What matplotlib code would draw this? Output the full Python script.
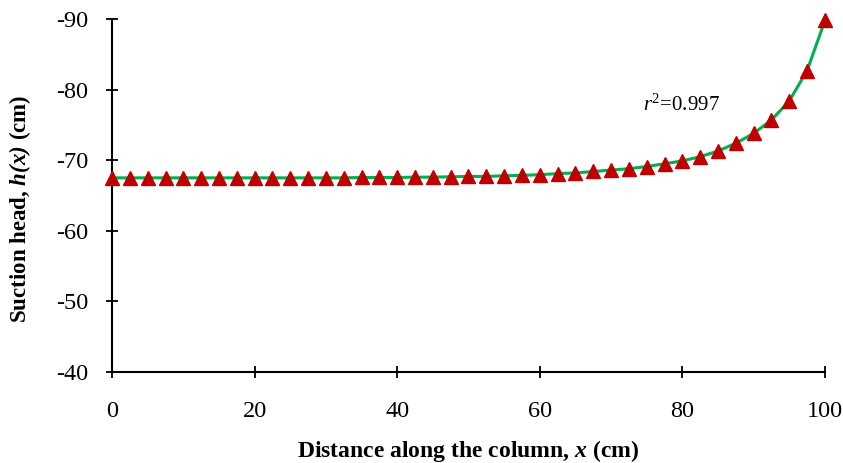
import matplotlib.pyplot as plt

plt.rcParams['font.family'] = ['Liberation Serif', 'DejaVu Serif']
plt.rcParams['axes.unicode_minus'] = False
plt.rcParams['mathtext.fontset'] = 'custom'
plt.rcParams['mathtext.rm'] = 'Liberation Serif'
plt.rcParams['mathtext.it'] = 'Liberation Serif:italic'
plt.rcParams['mathtext.bf'] = 'Liberation Serif:bold'
plt.rcParams['mathtext.bfit'] = 'Liberation Serif:italic:bold'

# distance along column (cm) and measured suction head (cm)
x_cm = [0, 2.5, 5, 7.5, 10, 12.5, 15, 17.5, 20, 22.5, 25, 27.5, 30, 32.5, 35, 37.5,
        40, 42.5, 45, 47.5, 50, 52.5, 55, 57.5, 60, 62.5, 65, 67.5, 70, 72.5, 75,
        77.5, 80, 82.5, 85, 87.5, 90, 92.5, 95, 97.5, 100]
h_cm = [-67.5, -67.5, -67.5, -67.5, -67.5, -67.5, -67.5, -67.5, -67.5, -67.5, -67.5,
        -67.5, -67.5, -67.5, -67.55, -67.55, -67.55, -67.6, -67.6, -67.65, -67.7,
        -67.7, -67.8, -67.85, -67.95, -68.1, -68.2, -68.4, -68.6, -68.8, -69.1,
        -69.5, -69.9, -70.5, -71.3, -72.4, -73.8, -75.7, -78.4, -82.7, -89.8]
y_ticks = [-90, -80, -70, -60, -50, -40]
x_ticks = [0, 20, 40, 60, 80, 100]

fig = plt.figure(figsize=(8.43, 4.63), dpi=100)
ax = fig.add_axes([0.1329, 0.1965, 0.8457, 0.7625])

ax.plot(x_cm, h_cm, color='#00B050', lw=2.2, zorder=2)
ax.plot(x_cm, h_cm, ls='none', marker='^', ms=10, color='#C00000',
        mec='#C00000', zorder=3, clip_on=False)

ax.set_xlim(0, 100)
ax.set_ylim(-40, -90)
ax.set_xticks(x_ticks)
ax.set_yticks(y_ticks)
ax.tick_params(direction='inout', length=8, width=1.3, labelsize=17.5, colors='black')
ax.tick_params(axis='y', pad=13)
ax.tick_params(axis='x', pad=17)
for s in ['top', 'right']:
    ax.spines[s].set_visible(False)
for s in ['left', 'bottom']:
    ax.spines[s].set_linewidth(1.5)

ax.set_xlabel('Distance along the column, $\\mathbfit{x}$ (cm)', fontsize=17,
              fontweight='bold')
ax.set_ylabel('Suction head, $\\mathbfit{h(x)}$ (cm)', fontsize=16.5,
              fontweight='bold')
ax.xaxis.set_label_coords(0.5, -0.188)
ax.yaxis.set_label_coords(-0.111, 0.462)

ax.text(74.5, -77.8, '$r^2$=0.997', fontsize=15, va='center', ha='left')

fig.savefig('out.png', dpi=100)
